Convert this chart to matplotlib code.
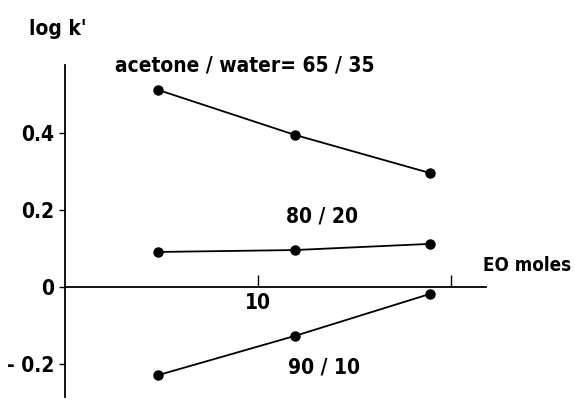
import matplotlib.pyplot as plt

# EO moles (x) and log k' for the three acetone/water ratios
eo_moles = [4.8, 11.9, 18.9]
logk_65_35 = [0.512, 0.395, 0.296]
logk_80_20 = [0.091, 0.096, 0.112]
logk_90_10 = [-0.229, -0.127, -0.018]

ytick_vals = [-0.2, 0, 0.2, 0.4]
ytick_labels = ['- 0.2', '0', '0.2', '0.4']
xtick_vals = [10, 20]
xtick_labels = ['10', '']

plt.rcParams['font.family'] = ['DejaVu Sans']
font = dict(fontsize=15, fontweight='bold', fontstretch='condensed')

fig = plt.figure(figsize=(5.75, 4.03), dpi=100)
ax = fig.add_axes([0, 0, 1, 1])
ax.set_xlim(-3.37, 26.42)
ax.set_ylim(-0.301, 0.745)

for ys in (logk_65_35, logk_80_20, logk_90_10):
    ax.plot(eo_moles, ys, color='black', lw=1.3, marker='o', ms=6.5)

# axes drawn through the origin
for side in ('top', 'right'):
    ax.spines[side].set_visible(False)
ax.spines['left'].set_position(('data', 0))
ax.spines['bottom'].set_position(('data', 0))
ax.spines['left'].set_bounds(-0.285, 0.577)
ax.spines['bottom'].set_bounds(0, 21.8)
ax.spines['left'].set_linewidth(1.3)
ax.spines['bottom'].set_linewidth(1.3)

ax.set_yticks(ytick_vals)
ax.set_yticklabels(ytick_labels)
ax.set_xticks(xtick_vals)
ax.set_xticklabels(xtick_labels)
ax.tick_params(axis='y', direction='out', length=4, width=1, pad=4)
ax.tick_params(axis='x', direction='in', length=9, width=1, pad=4)
for lab in ax.get_xticklabels() + ax.get_yticklabels():
    lab.set(**font)

ax.text(-0.4, 0.67, "log k'", ha='center', va='center', **font)
ax.text(2.6, 0.575, 'acetone / water= 65 / 35', ha='left', va='center', **font)
ax.text(13.3, 0.183, '80 / 20', ha='center', va='center', **font)
ax.text(13.4, -0.21, '90 / 10', ha='center', va='center', **font)
ax.text(26.2, 0.057, 'EO moles', ha='right', va='center',
        fontsize=13.5, fontweight='bold', fontstretch='condensed')

fig.savefig('out.png', dpi=100)
